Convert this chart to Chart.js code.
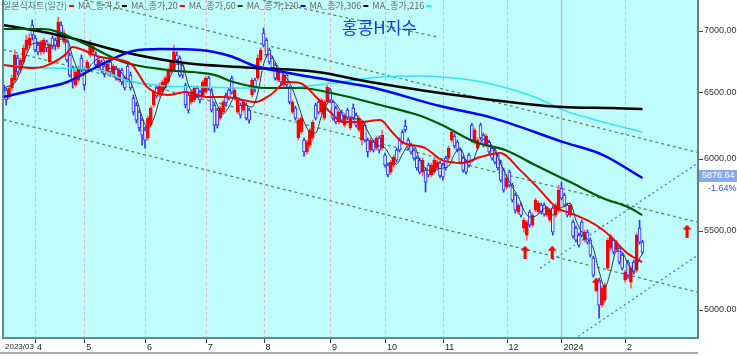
<!DOCTYPE html>
<html><head><meta charset="utf-8">
<script src="https://cdn.jsdelivr.net/npm/chart.js@4.4.1/dist/chart.umd.min.js"></script>
<style>html,body{margin:0;padding:0;background:#fff;overflow:hidden}canvas{display:block}</style>
</head><body>
<canvas id="c" width="737" height="356"></canvas>
<script>
// ---- candle data (index = trading day, 2023/03 .. 2024/02) ----
const opens = [
6558,6518,6463,6534,6597,6775,6678,6743,6841,6882,
7051,6941,6882,6825,6825,6908,6743,6941,6924,6866,
7051,6908,6908,6800,6694,6558,6597,6775,6678,6678,
6800,6825,6800,6694,6743,6710,6662,6743,6637,6694,
6597,6678,6613,6710,6637,6456,6401,6347,6286,6211,
6151,6248,6401,6534,6479,6502,6534,6582,6662,6678,
6800,6775,6718,6558,6479,6424,6440,6534,6502,6479,
6502,6613,6518,6401,6362,6301,6347,6479,6518,6613,
6456,6347,6401,6362,6401,6362,6479,6597,6613,6759,
6983,6924,6841,6775,6718,6597,6662,6558,6637,6534,
6347,6378,6151,6196,6136,6048,6099,6151,6401,6424,
6347,6301,6424,6518,6424,6378,6271,6347,6248,6362,
6226,6378,6324,6211,6136,6248,6136,6062,6121,6077,
6151,6077,6026,5953,5903,5953,6062,6136,6196,6241,
6136,6099,6062,6004,5989,5903,5917,5953,5882,5903,
5932,5968,5953,6004,6004,6136,6166,6121,6062,6004,
5975,6026,6248,6121,6077,6248,6173,6099,6121,6077,
6062,6026,5975,5917,5797,5903,5811,5741,5625,5672,
5517,5470,5625,5537,5638,5625,5672,5672,5604,5570,
5652,5604,5638,5790,5741,5672,5604,5557,5517,5470,
5557,5437,5490,5437,5320,5119,5181,5027,5057,5256,
5385,5437,5372,5385,5340,5181,5295,5168,5295,5244,
5517,5424];
const highs = [
6582,6534,6550,6637,6841,6800,6775,6882,6966,6975,
7094,6966,6908,6924,6941,6924,6899,6958,6941,7120,
7077,7008,6924,6817,6710,6678,6710,6800,6694,6759,
6924,6891,6825,6775,6759,6726,6743,6759,6726,6710,
6694,6694,6629,6726,6662,6479,6424,6362,6301,6233,
6317,6393,6518,6550,6574,6597,6629,6694,6759,6882,
6825,6792,6734,6574,6494,6518,6550,6550,6518,6597,
6629,6629,6534,6417,6378,6393,6440,6494,6534,6629,
6534,6456,6417,6440,6417,6378,6613,6613,6800,6858,
7025,6941,6858,6792,6734,6678,6678,6654,6654,6550,
6440,6393,6301,6317,6151,6136,6226,6286,6417,6440,
6456,6440,6558,6534,6440,6393,6362,6362,6339,6378,
6317,6409,6339,6317,6286,6263,6151,6151,6136,6166,
6166,6211,6040,5968,5989,6026,6077,6151,6211,6286,
6151,6114,6077,6018,6004,6004,5932,5968,5968,6004,
5989,5982,5968,6018,6092,6211,6181,6136,6077,6018,
5989,6040,6263,6226,6151,6263,6188,6181,6136,6092,
6077,6040,5989,5932,5875,5917,5825,5755,5686,5686,
5584,5570,5638,5618,5720,5700,5686,5686,5665,5652,
5665,5686,5811,5832,5755,5686,5686,5570,5530,5484,
5570,5504,5504,5450,5333,5193,5193,5143,5162,5450,
5477,5450,5437,5398,5353,5244,5308,5269,5308,5484,
5570,5437];
const lows = [
6479,6401,6448,6518,6582,6637,6654,6726,6825,6858,
6924,6825,6800,6800,6808,6825,6726,6849,6841,6849,
6941,6891,6743,6621,6534,6542,6582,6662,6518,6662,
6783,6800,6702,6678,6654,6621,6637,6637,6621,6597,
6582,6558,6518,6582,6518,6324,6263,6203,6099,6077,
6136,6233,6386,6456,6463,6487,6518,6566,6646,6662,
6734,6621,6613,6378,6339,6409,6424,6463,6417,6463,
6487,6518,6347,6196,6226,6286,6332,6393,6440,6487,
6440,6332,6301,6347,6286,6263,6463,6502,6597,6743,
6866,6783,6726,6678,6597,6582,6558,6542,6534,6409,
6332,6286,6136,6181,6018,6033,6084,6136,6286,6332,
6332,6286,6409,6424,6286,6256,6256,6271,6233,6286,
6211,6286,6233,6196,6099,6121,6011,6048,6048,6062,
6040,6062,5939,5868,5889,5939,5975,6048,6106,6196,
6062,6033,5989,5917,5889,5875,5762,5868,5868,5889,
5917,5861,5846,5917,5989,6121,6077,6048,5961,5903,
5889,5939,6121,6106,6062,6136,6084,6084,6033,5989,
5961,5917,5832,5762,5783,5797,5693,5618,5611,5591,
5490,5437,5523,5523,5625,5611,5611,5597,5591,5557,
5470,5591,5625,5707,5659,5591,5591,5450,5424,5392,
5457,5424,5411,5327,5200,5106,4948,5015,5045,5244,
5372,5346,5359,5282,5244,5168,5193,5131,5219,5231,
5411,5346];
const closes = [
6502,6440,6534,6613,6800,6662,6759,6858,6924,6941,
6966,6841,6825,6908,6924,6858,6882,6866,6874,7077,
6966,6983,6759,6637,6582,6662,6694,6678,6558,6743,
6899,6874,6718,6759,6678,6646,6726,6662,6710,6613,
6678,6582,6534,6597,6534,6347,6286,6226,6173,6136,
6301,6378,6502,6471,6558,6582,6613,6678,6743,6825,
6759,6637,6637,6401,6362,6502,6534,6479,6440,6582,
6613,6534,6362,6248,6248,6378,6424,6417,6456,6502,
6518,6440,6324,6424,6301,6286,6597,6534,6775,6841,
6882,6800,6743,6694,6613,6662,6582,6637,6558,6424,
6424,6301,6286,6301,6048,6121,6211,6271,6301,6347,
6440,6424,6542,6440,6301,6271,6347,6286,6324,6301,
6301,6301,6248,6301,6271,6136,6048,6136,6062,6151,
6062,6173,5953,5882,5975,6011,5989,6062,6121,6211,
6077,6048,6004,5932,5903,5989,5832,5882,5953,5989,
5975,5875,5868,5932,6077,6196,6092,6062,5975,5917,
5903,5953,6136,6211,6136,6151,6099,6166,6048,6004,
5975,5932,5846,5776,5861,5811,5707,5638,5672,5604,
5570,5557,5537,5604,5707,5686,5625,5611,5652,5638,
5490,5672,5776,5720,5672,5604,5672,5464,5437,5405,
5470,5490,5424,5340,5212,5181,5027,5131,5150,5437,
5464,5359,5424,5295,5256,5231,5212,5256,5231,5470,
5424,5359];

// ---- moving averages ----
const ma5X = [0,2,4,6,8,10,12,14,16,18,20,22,24,26,28,30,32,34,36,38,40,42,44,46,48,50,52,54,56,58,60,62,64,66,68,70,72,74,76,78,80,82,84,86,88,90,92,94,96,98,100,102,104,106,108,110,112,114,116,118,120,122,124,126,128,130,132,134,136,138,140,142,144,146,148,150,152,154,156,158,160,162,164,166,168,170,172,174,176,178,180,182,184,186,188,190,192,194,196,198,200,202,204,206,208,210,212,214,216,218,220,221];
const ma5Y = [6534,6550,6574,6670,6800,6891,6899,6891,6882,6882,6932,6932,6783,6670,6637,6710,6759,6783,6702,6686,6678,6621,6582,6456,6309,6226,6294,6440,6542,6637,6726,6718,6558,6487,6463,6526,6502,6401,6332,6386,6463,6448,6401,6386,6494,6726,6808,6743,6662,6613,6526,6401,6271,6196,6188,6317,6409,6432,6378,6309,6309,6294,6286,6203,6129,6092,6077,6011,5961,6033,6092,6092,5989,5932,5910,5925,5932,5946,6033,6077,5989,5975,6070,6143,6121,6055,5961,5875,5797,5734,5638,5591,5597,5631,5659,5604,5645,5665,5686,5570,5490,5443,5385,5237,5137,5237,5366,5359,5282,5237,5320,5346];
const ma20X = [0,10.3,16.2,22.1,23.8,27.6,33.5,43.8,50.1,57,62.9,70.8,76.7,82.6,87.1,92.3,98.1,102.6,108.5,113,117.5,123.4,130.3,134.4,137.9,145.9,151.7,158.6,164.9,171.8,178.7,184.6,191.5,196,201.9,207.4,210.9,215.7,220.9];
const ma20Y = [6718,6694,6726,6817,6866,6841,6783,6734,6534,6479,6502,6463,6463,6440,6424,6479,6582,6574,6456,6347,6271,6271,6286,6196,6121,6077,5989,5968,6011,6040,5917,5797,5652,5618,5570,5504,5443,5353,5295];
const ma60X = [0,13.8,27.6,41.4,56.6,73.2,79.5,91.2,102.6,116.5,130.3,143.4,151.7,163.1,173.5,184.6,196,207.4,216.7,220.9];
const ma60Y = [7017,7017,6899,6743,6678,6637,6582,6534,6534,6479,6401,6324,6248,6121,6062,5946,5832,5720,5652,5604];
const ma120X = [0,10.3,22.1,33.5,44.9,54.2,68,78.4,87.1,96.8,108.5,126.8,151,169.4,193.6,207.4,221];
const ma120Y = [6463,6518,6582,6718,6833,6849,6841,6792,6710,6662,6613,6542,6393,6301,6121,6026,5861];
const ma306X = [0,13.8,22.1,41.4,62.9,87.1,108.5,126.8,161.4,193.2,210,221];
const ma306Y = [7051,6992,6949,6825,6734,6694,6662,6582,6463,6386,6378,6370];
const ma216X = [0,16.2,33.5,42.1,56,68.7,87.1,95.7,114,130.3,144.1,161.4,172.8,184.6,193.6,206.4,220.9];
const ma216Y = [6718,6694,6678,6597,6550,6542,6534,6534,6574,6621,6629,6597,6542,6456,6362,6278,6196];

// ---- trend lines [index, price] ----
const greenTop = [[89.8,7267],[150,6950]];
const greenUpper = [[0,7447],[240.2,6044]];
const greenMiddle = [[0,6845],[240.2,5555]];
const greenLower = [[0,6290],[240.2,5105]];
const blueUpper = [[185.6,5256],[240.2,5968]];
const blueLower = [[198.8,4841],[240.2,5340]];

// ---- signal arrows ----
const arrowX = [180.4,189.8,205,236.4];
const arrowY = [5359,5359,5156,5497];

// ---- axes ----
const monthTicks = [-0.1,11,28,49,70,90,113,132,152,174,193,215];
const monthLabels = ['2023/03','4','5','6','7','8','9','10','11','12','2024','2'];
const yTicks = [5000,5500,6000,6500,7000];
const lastPrice = 5876.64;
const lastChange = '-1.64%';
const titleText = '홍콩H지수';
const legendItems = [
  ['일본식차트(일간)','#ff0000'],['MA_종가,5','#000000'],['MA_종가,20','#ff0000'],
  ['MA_종가,60','#006000'],['MA_종가,120','#0000ff'],['MA_종가,306','#000000'],['MA_종가,216','#00ffff']];

const pts = (xs, ys) => xs.map((x,i)=>({x:x, y:ys[i]}));
const seg = a => a.map(p=>({x:p[0], y:p[1]}));
const up = closes.map((c,i)=>c>=opens[i]);

function makeArrow(){
  const c=document.createElement('canvas'); c.width=9; c.height=13;
  const g=c.getContext('2d'); g.fillStyle='#ff0000';
  g.beginPath(); g.moveTo(4.5,0); g.lineTo(9,5); g.lineTo(6,5); g.lineTo(6,13); g.lineTo(3,13); g.lineTo(3,5); g.lineTo(0,5); g.closePath(); g.fill();
  return c;
}
const arrowImg = makeArrow();

const lineDs = (xs, ys, color, w, order) => ({type:'line', data:pts(xs,ys), borderColor:color, borderWidth:w,
  pointRadius:0, cubicInterpolationMode:'monotone', fill:false, order:order});
const trendDs = (a, color, dash) => ({type:'line', data:seg(a), borderColor:color, borderWidth:1.3,
  borderDash:dash, pointRadius:0, fill:false, order:9, tension:0});

const deco = {
  id:'deco',
  beforeDraw(chart){
    const {ctx, chartArea:a} = chart;
    ctx.save();
    ctx.fillStyle='#ffffff'; ctx.fillRect(0,0,chart.width,chart.height);
    ctx.fillStyle='#bffcfc'; ctx.fillRect(a.left,a.top,a.right-a.left,a.bottom-a.top);
    const xs = chart.scales.x;
    monthTicks.forEach((v,i)=>{
      if(i===0) return;
      const px = Math.round(xs.getPixelForValue(v))+0.5;
      ctx.beginPath();
      if(monthLabels[i]==='2024'){ctx.setLineDash([]);ctx.strokeStyle='#c2c2c2';ctx.lineWidth=1.5;}
      else {ctx.setLineDash([3,3]);ctx.strokeStyle='#dcb6c0';ctx.lineWidth=1;}
      ctx.moveTo(px,a.top); ctx.lineTo(px,a.bottom); ctx.stroke();
    });
    ctx.restore();
  },
  afterDraw(chart){
    const {ctx, chartArea:a} = chart;
    const xs = chart.scales.x, ys = chart.scales.y;
    ctx.save();
    ctx.setLineDash([]);
    ctx.fillStyle='#5b8c8c';
    ctx.fillRect(2,0,2,a.bottom+1);
    ctx.fillRect(2,a.bottom-1,a.right-2,2);
    ctx.fillStyle='#6f7a7a';
    ctx.fillRect(a.right-1,0,2,a.bottom+1);
    ctx.fillStyle='#404040';
    yTicks.forEach(v=>{const py=Math.round(ys.getPixelForValue(v)); ctx.fillRect(a.right+1,py,4,1);});
    monthTicks.forEach((v,i)=>{ if(i===0) return; const px=Math.round(xs.getPixelForValue(v)); ctx.fillRect(px,a.bottom+1,1,4);});
    ctx.fillStyle='#a8a8a8';
    ctx.fillRect(0,352,a.right,2);
    // legend
    ctx.font='9px "Noto Sans CJK KR"';
    ctx.textBaseline='middle';
    let x=3;
    legendItems.forEach(it=>{
      ctx.fillStyle='#6a6a6a'; ctx.fillText(it[0],x,5.5);
      x+=ctx.measureText(it[0]).width+2;
      ctx.fillStyle=it[1]; ctx.fillRect(x,5,5,2);
      x+=5+4;
    });
    // title
    ctx.font='17px "Noto Sans CJK KR"';
    ctx.fillStyle='#1c3ae0';
    ctx.fillText(titleText,342,28);
    // last price label
    const py = ys.getPixelForValue(lastPrice);
    ctx.fillStyle='#86acef'; ctx.fillRect(a.right+1,Math.round(py)-6,737-a.right-1,12);
    ctx.font='9px "Liberation Sans"'; ctx.fillStyle='#ffffff';
    ctx.fillText(lastPrice.toFixed(2),a.right+4,py);
    ctx.fillStyle='#2a5de0';
    ctx.fillText(lastChange,a.right+10,py+13);
    ctx.restore();
  }
};

new Chart(document.getElementById('c'), {
  type:'bar',
  data:{datasets:[
    lineDs(ma5X, ma5Y, '#383838', 1, 1),
    lineDs(ma20X, ma20Y, '#ff0000', 2, 2),
    lineDs(ma60X, ma60Y, '#005800', 2.2, 3),
    lineDs(ma120X, ma120Y, '#0000ff', 2.5, 4),
    lineDs(ma306X, ma306Y, '#000000', 2.5, 5),
    lineDs(ma216X, ma216Y, '#30e6f4', 1.5, 6),
    {type:'bar', data:closes.map((c,i)=>({x:i, y:[opens[i], c]})),
      backgroundColor:up.map(u=>u?'#ff0000':'#e4f2ff'), borderColor:up.map(u=>u?'#ff0000':'#2a2aff'),
      borderWidth:1, borderSkipped:false, barThickness:3, grouped:false, minBarLength:1, order:7},
    {type:'bar', data:closes.map((c,i)=>({x:i, y:[lows[i], highs[i]]})),
      backgroundColor:up.map(u=>u?'#ff6060':'#3434ff'), borderWidth:0, barThickness:1, grouped:false, order:8},
    trendDs(greenTop, '#5c8c5c', [3,3]),
    trendDs(greenUpper, '#5c8c5c', [3,3]),
    trendDs(greenMiddle, '#5c8c5c', [3,3]),
    trendDs(greenLower, '#5c8c5c', [3,3]),
    trendDs(blueUpper, '#5070e8', [2,3]),
    trendDs(blueLower, '#5070e8', [2,3]),
    {type:'line', data:pts(arrowX, arrowY), showLine:false, pointStyle:arrowImg, pointRadius:6, order:0}
  ]},
  options:{
    responsive:false, animation:false, devicePixelRatio:1, events:[],
    layout:{autoPadding:false, padding:{left:3,right:0,top:0,bottom:0}},
    plugins:{legend:{display:false}, tooltip:{enabled:false}},
    scales:{
      x:{type:'linear', min:-0.1, max:240.2, offset:false, bounds:'data',
        grid:{display:false, drawTicks:false, offset:false}, border:{display:false},
        afterBuildTicks:s=>{s.ticks = monthTicks.map(v=>({value:v}));},
        afterFit:s=>{s.height=18; s.paddingLeft=0; s.paddingRight=0; s.paddingTop=0; s.paddingBottom=0;},
        ticks:{autoSkip:false, maxRotation:0, minRotation:0, align:'start', labelOffset:2, padding:4,
          color:'#222', font:c=>({family:'"Liberation Sans", Arial', size:(c.index===0?8:9)}),
          callback:(v,i)=>monthLabels[i]}},
      y:{type:'logarithmic', position:'right', min:4831, max:7267, bounds:'data',
        grid:{display:false, drawTicks:false}, border:{display:false},
        afterBuildTicks:s=>{s.ticks = yTicks.map(v=>({value:v}));},
        afterFit:s=>{s.width=39; s.paddingLeft=0; s.paddingRight=0; s.paddingTop=0; s.paddingBottom=0;},
        ticks:{autoSkip:false, padding:6, color:'#333', font:{family:'"Liberation Sans", Arial', size:9},
          callback:v=>Number(v).toFixed(2)}}
    }
  },
  plugins:[deco]
});
</script>
</body></html>
